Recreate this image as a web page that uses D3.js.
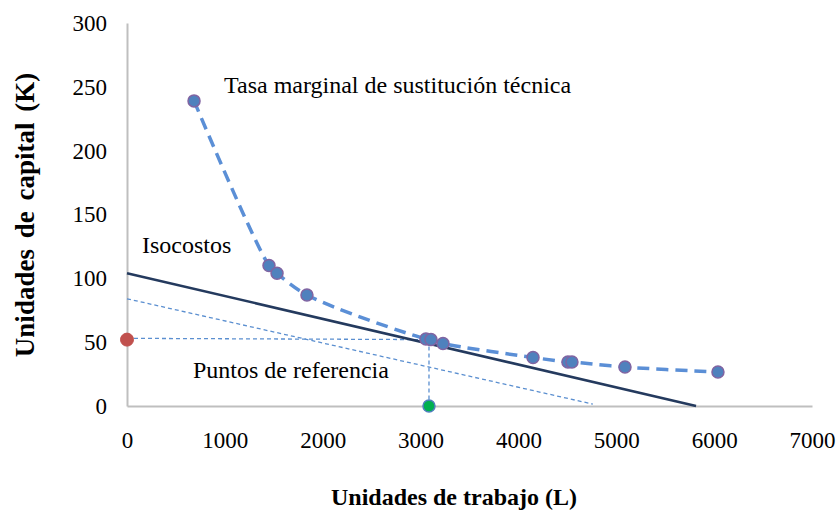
<!DOCTYPE html>
<html>
<head>
<meta charset="utf-8">
<script src="https://cdn.jsdelivr.net/npm/d3@7"></script>
<style>
  html, body { margin: 0; padding: 0; background: #fff; }
  svg { display: block; }
  text { font-family: "Liberation Serif", "Times New Roman", serif; fill: #000; }
</style>
</head>
<body>
<svg id="chart" width="839" height="519"></svg>
<script>
// ---- Data ----
const xTicks = [0, 1000, 2000, 3000, 4000, 5000, 6000, 7000];
const yTicks = [0, 50, 100, 150, 200, 250, 300];

// Isoquant points (Tasa marginal de sustitución técnica)
const laborL   = [685, 1451, 1533, 1839, 3055, 3106, 3229, 4149, 4506, 4547, 5089, 6039];
const capitalK = [239, 110, 104, 87, 52.5, 52, 49, 38, 34.5, 34.5, 30.5, 26.6];

// Isocost line
const isocostL = [0, 5815];
const isocostK = [104, 0];

// Thin dashed reference line (parallel isocost)
const refLineL = [0, 4760];
const refLineK = [84, 1.5];

// Reference points
const refHorizL = [0, 3086];
const refHorizK = [53, 52];
const refVertL  = [3086, 3086];
const refVertK  = [52, 0];
const refPointK = { L: 0, K: 52 };
const refPointL = { L: 3086, K: 0 };

const labels = {
  isoquant: "Tasa marginal de sustitución técnica",
  isocost: "Isocostos",
  ref: "Puntos de referencia",
  xTitle: "Unidades de trabajo (L)",
  yTitle: "Unidades de capital (K)"
};

// ---- Scales ----
const svg = d3.select("#chart");
const x = d3.scaleLinear().domain([0, 7000]).range([127, 812]);
const y = d3.scaleLinear().domain([0, 300]).range([406, 23]);

const zip = (a, b) => a.map((v, i) => [v, b[i]]);

// ---- Axes ----
const xAxis = svg.append("g").attr("transform", `translate(0,${y(0)})`)
  .call(d3.axisBottom(x).tickValues(xTicks).tickSize(0).tickPadding(26).tickFormat(d3.format("d")));
const yAxis = svg.append("g").attr("transform", `translate(${x(0)},0)`)
  .call(d3.axisLeft(y).tickValues(yTicks).tickSize(0).tickPadding(20).tickFormat(d3.format("d")));
[xAxis, yAxis].forEach(g => {
  g.select(".domain").attr("stroke", "#bfbfbf").attr("stroke-width", 2);
  g.selectAll("text").style("font-family", '"Liberation Serif", serif').style("font-size", "23px").attr("fill", "#000");
});

const line = d3.line().x(d => x(d[0])).y(d => y(d[1]));

// Thin dashed lines
const thin = { stroke: "#5b8fd0", width: 1.3, dash: "4,3" };
[zip(refLineL, refLineK), zip(refHorizL, refHorizK), zip(refVertL, refVertK)].forEach(pts => {
  svg.append("path").attr("d", line(pts))
    .attr("fill", "none").attr("stroke", thin.stroke)
    .attr("stroke-width", thin.width).attr("stroke-dasharray", thin.dash);
});

// Isocost
svg.append("path").attr("d", line(zip(isocostL, isocostK)))
  .attr("fill", "none").attr("stroke", "#243a5e").attr("stroke-width", 2.5);

// Isoquant dashed smooth curve
const curvePts = zip(laborL, capitalK);
svg.append("path")
  .attr("d", d3.line().x(d => x(d[0])).y(d => y(d[1])).curve(d3.curveCatmullRom.alpha(0.5))(curvePts))
  .attr("fill", "none").attr("stroke", "#5b8fd6").attr("stroke-width", 3.5)
  .attr("stroke-dasharray", "12,7");

// Isoquant points
svg.selectAll("circle.pt").data(curvePts).join("circle")
  .attr("class", "pt")
  .attr("cx", d => x(d[0])).attr("cy", d => y(d[1])).attr("r", 6)
  .attr("fill", "#4f81bd").attr("stroke", "#8064a2").attr("stroke-width", 1.5);

// Reference points
svg.append("circle").attr("cx", x(refPointK.L)).attr("cy", y(refPointK.K)).attr("r", 6.5)
  .attr("fill", "#c0504d").attr("stroke", "#c0504d").attr("stroke-width", 1);
svg.append("circle").attr("cx", x(refPointL.L)).attr("cy", y(refPointL.K)).attr("r", 6)
  .attr("fill", "#00b050").attr("stroke", "#4f81bd").attr("stroke-width", 1.5);

// Annotations
const ann = (t, px, py) => svg.append("text").attr("x", px).attr("y", py)
  .style("font-size", "24px").text(t);
ann(labels.isoquant, 224, 93);
ann(labels.isocost, 142, 253);
ann(labels.ref, 193, 378);

// Axis titles
svg.append("text").attr("x", 454).attr("y", 505).attr("text-anchor", "middle")
  .style("font-size", "24px").style("font-weight", "bold").text(labels.xTitle);
svg.append("text").attr("transform", "translate(34,215) rotate(-90)").attr("text-anchor", "middle")
  .style("font-size", "27px").style("font-weight", "bold").style("word-spacing", "4px").text(labels.yTitle);
</script>
</body>
</html>
